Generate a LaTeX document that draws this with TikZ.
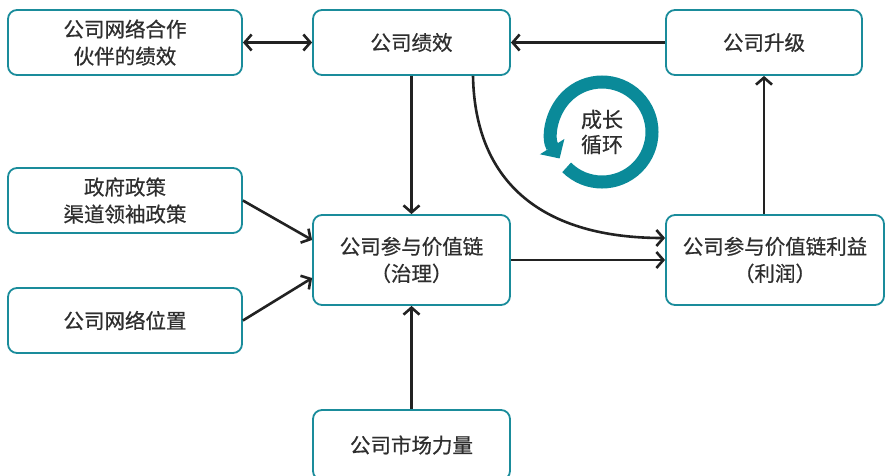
\documentclass[tikz,border=0pt]{standalone}
\usepackage{fontspec}
\setmainfont{Noto Sans CJK SC}[FakeBold=0.6]
\usetikzlibrary{arrows.meta,calc}
\definecolor{boxteal}{HTML}{1A8C9B}
\definecolor{ringteal}{HTML}{0A8A99}
\definecolor{linkdark}{HTML}{222222}
\definecolor{labelgray}{HTML}{2E2E2E}
\begin{document}
\begin{tikzpicture}[x=1pt,y=-1pt,
  box/.style={draw=boxteal, line width=1.8pt, rounded corners=9pt, fill=white,
    align=center, inner sep=0pt, text=labelgray,
    font=\fontsize{20.5}{27}\selectfont},
  link/.style={line width=2.6pt, draw=linkdark,
    -{Straight Barb[length=7pt,width=16pt]}},
  both/.style={line width=2.6pt, draw=linkdark,
    {Straight Barb[length=7pt,width=16pt]}-{Straight Barb[length=7pt,width=16pt]}}]
\useasboundingbox (0,0) rectangle (886,475);

% boxes
\node[box, minimum width=234, minimum height=65] (net)  at (125,42.5)  {公司网络合作\\伙伴的绩效};
\node[box, minimum width=197, minimum height=65] (perf) at (411.5,42.5) {公司绩效};
\node[box, minimum width=196, minimum height=65] (up)   at (764,42.5)  {公司升级};
\node[box, minimum width=234, minimum height=65] (pol)  at (125,200.5) {政府政策\\渠道领袖政策};
\node[box, minimum width=197, minimum height=90] (gov)  at (411.5,260) {公司参与价值链\\（治理）};
\node[box, minimum width=218, minimum height=90] (gain) at (775,260)   {公司参与价值链利益\\（利润）};
\node[box, minimum width=234, minimum height=65] (pos)  at (125,320.5) {公司网络位置};
\node[box, minimum width=197, minimum height=70] (mkt)  at (411.5,445) {公司市场力量};

% connectors
\draw[both] (net.east) -- (perf.west);
\draw[link] (up.west) -- (perf.east);
\draw[link] (perf.south) -- (gov.north);
\draw[link] ($(perf.south)+(61.5,0)$) .. controls (475,185) and (545,238) .. ($(gain.west)+(0,-22)$);
\draw[link] (pol.east) -- ($(gov.west)+(0,-20)$);
\draw[link] (pos.east) -- ($(gov.west)+(0,18)$);
\draw[link] (gov.east) -- (gain.west);
\draw[link] (mkt.north) -- (gov.south);
\draw[link] (gain.north -| up.south) -- (up.south);

% growth cycle
\coordinate (cyc) at (602,132);
\draw[ringteal, line width=13pt, -{Triangle[length=14pt,width=28pt]}]
  ($(cyc)+(-225:50)$) arc[start angle=-225, end angle=-572, radius=50];
\node[text=labelgray, font=\fontsize{21}{25}\selectfont, align=center] (cyctext) at (cyc) {成长\\循环};
\end{tikzpicture}
\end{document}
